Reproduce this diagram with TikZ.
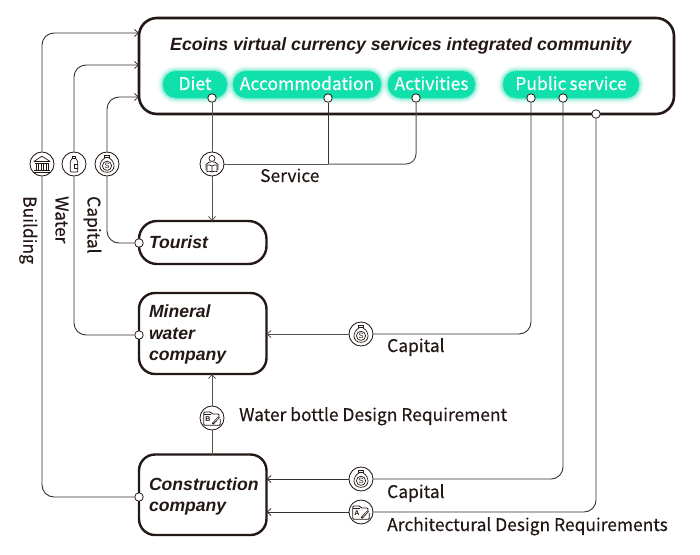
\documentclass[tikz,border=0pt]{standalone}
\usepackage{fontspec}
\usetikzlibrary{arrows.meta}
\setmainfont{Liberation Sans}
\newfontfamily\labfont[FakeBold=0.35]{Noto Sans CJK SC}
\definecolor{ink}{HTML}{231815}
\definecolor{pillc}{HTML}{0FE0AC}
\tikzset{
  mainbox/.style={draw=ink,line width=2.6pt,rounded corners=18pt,fill=white,outer sep=0pt},
  actor/.style={draw=ink,line width=2.4pt,rounded corners=16pt,fill=white,minimum width=127.5pt,outer sep=0pt,
     align=left,text width=107.5pt,inner xsep=10pt,inner ysep=0pt,font=\fontsize{17.6}{21.5}\selectfont\bfseries\itshape,text=ink,anchor=north west},
  pill/.style={rounded corners=13pt,fill=pillc,text=white,minimum height=27pt,inner sep=0pt,anchor=north west,outer sep=0pt,
     text height=15pt,text depth=4pt,
     font=\labfont\fontsize{17.5}{20}\selectfont,
     preaction={draw=pillc,line width=11pt,opacity=.04},
     preaction={draw=pillc,line width=9pt,opacity=.06},
     preaction={draw=pillc,line width=7pt,opacity=.09},
     preaction={draw=pillc,line width=5pt,opacity=.13},
     preaction={draw=pillc,line width=3pt,opacity=.18},
     preaction={draw=pillc,line width=1.5pt,opacity=.25}},
  port/.style={circle,draw=ink,fill=white,line width=.8pt,minimum size=8.5pt,inner sep=0pt},
  icon/.style={circle,draw=ink,fill=white,line width=.85pt,minimum size=24pt,inner sep=0pt},
  wire/.style={draw=ink!90,line width=.9pt,rounded corners=12pt},
  greywire/.style={draw=ink!75,line width=1pt,rounded corners=10pt},
  tip/.style={-{Straight Barb[length=4pt,width=7pt,line width=.8pt]}},
  lab/.style={font=\labfont\fontsize{17.4}{20}\selectfont,text=ink,inner sep=0pt},
  gl/.style={draw=ink,line width=.7pt,line join=round},
  icoBag/.pic={
    \draw[gl] (-2.6,-8.2) rectangle (2.6,-6.2);
    \draw[gl] (-1.8,-6.2) .. controls (-9,-2.5) and (-9,8.3) .. (0,8.3) .. controls (9,8.3) and (9,-2.5) .. (1.8,-6.2);
    \draw[gl] (0,1.8) circle (4.6pt);
    \node[inner sep=0pt,text=ink,font=\fontsize{7.5}{7}\selectfont] at (0,1.8) {S};},
  icoBank/.pic={
    \draw[gl] (-8,-2.6) -- (0,-7.8) -- (8,-2.6) -- cycle;
    \draw[gl] (-7,-.8) -- (7,-.8) (-8,6.5) -- (8,6.5) (-9,8) -- (9,8);
    \foreach \u in {-6,-3.2,-.6,1.8,4.2,6.4} {\draw[gl] (\u,-.8) -- (\u,6.5);}},
  icoBottle/.pic={
    \draw[gl] (-1.8,-8) rectangle (1.8,-5.8);
    \draw[gl,rounded corners=1pt] (-1.6,-5.8) -- (-3.8,-2.5) -- (-3.8,8) -- (3.8,8) -- (3.8,-2.5) -- (1.6,-5.8);
    \draw[gl] (3.8,0) -- (.2,0) -- (.2,4) -- (3.8,4);},
  icoPerson/.pic={
    \draw[gl] (0,-5.5) circle (3pt);
    \draw[gl] (-6,6) -- (-6,.5) .. controls (-5,-1.5) and (-2,-2) .. (-1.2,-2) (6,6) -- (6,.5) .. controls (5,-1.5) and (2,-2) .. (1.2,-2);
    \draw[gl] (0,2) .. controls (-2,.6) and (-4,.6) .. (-5,1.2) -- (-5,7.5) .. controls (-3,7) and (-1.5,7) .. (0,8) .. controls (1.5,7) and (3,7) .. (5,7.5) -- (5,1.2) .. controls (4,.6) and (2,.6) .. (0,2) -- (0,8);},
  pics/icoDoc/.style={code={
    \draw[gl,line width=.85pt,rounded corners=1pt] (8.2,1) -- (8.2,7.2) -- (-8.2,7.2) -- (-8.2,-6) -- (-1,-6) -- (0,-4) -- (7,-4) -- (7,-1.5);
    \draw[gl] (-8.2,-4) -- (-1,-4);
    \node[inner sep=0pt,text=ink,font=\bfseries\fontsize{7}{6}\selectfont] at (-4.2,0.8) {#1};
    \draw[draw=ink,line width=2pt] (.5,6) -- (7.2,-1);
    \draw[draw=white,line width=.5pt] (1.6,4.8) -- (6.6,-.4);}},
}
\begin{document}
\begin{tikzpicture}[x=1pt,y=-1pt]
\useasboundingbox (0,0) rectangle (700,554);
\fill[white] (0,0) rectangle (700,554);
% boxes
\node[mainbox,minimum width=535pt,minimum height=96pt,inner sep=0pt,anchor=north west] (main) at (139,18) {};
\node[inner sep=0pt,font=\fontsize{17.7}{20}\selectfont\bfseries\itshape,text=ink,anchor=base west] (title) at (170,50) {Ecoins virtual currency services integrated community};
\node[pill,minimum width=64pt] (diet) at (163,71) {Diet};
\node[pill,minimum width=148pt] (accom) at (233,71) {Accommodation};
\node[pill,minimum width=87pt] (activ) at (388,71) {Activities};
\node[pill,minimum width=136pt] (pub) at (503,71) {Public\hspace{-1pt} service};
\node[actor,minimum height=43pt,rounded corners=18pt] (tourist) at (139,221) {Tourist};
\node[actor,minimum height=81pt] (mineral) at (139,293) {\rule{0pt}{15.5pt}Mineral\\water\\company};
\node[actor,minimum height=80.5pt] (constr) at (139,454.5) {\rule{0pt}{16.5pt}Construction\\company};
% ports
\node[port] (pdiet) at (212,98) {};
\node[port] (paccom) at (328,98) {};
\node[port] (pactiv) at (416,98) {};
\node[port] (ppub) at (531,98) {};
\node[port] (pcap) at (563,98) {};
\node[port] (parch) at (596,114) {};
\node[port] (ptour) at (139,243) {};
\node[port] (pmin) at (139,335) {};
\node[port] (pcon) at (139,497) {};
% icons
\node[icon] (ibuild) at (42,164) {};
\node[icon] (iwater) at (74,164) {};
\node[icon] (icap) at (107,164) {};
\node[icon] (iserv) at (212,164) {};
\node[icon] (icapm) at (361,334) {};
\node[icon] (ibott) at (212,418) {};
\node[icon] (icapc) at (361,479) {};
\node[icon] (iarch) at (361,512) {};
\pic at (ibuild) {icoBank};
\pic at (iwater) {icoBottle};
\pic at (icap) {icoBag};
\pic at (iserv) {icoPerson};
\pic at (icapm) {icoBag};
\pic at (ibott) {icoDoc={B}};
\pic at (icapc) {icoBag};
\pic at (iarch) {icoDoc={A}};
% free ends on the main box
\coordinate (inB) at (139,33);
\coordinate (inW) at (139,65);
\coordinate (inC) at (139,97);
\coordinate (jn) at (328,164);
% connectors
\draw[wire] (pcon) -| (ibuild);
\draw[wire,tip] (ibuild) |- (inB);
\draw[wire] (pmin) -| (iwater);
\draw[wire,tip] (iwater) |- (inW);
\draw[wire] (ptour) -| (icap);
\draw[wire,tip] (icap) |- (inC);
\draw[greywire] (pdiet) -- (iserv);
\draw[greywire,tip] (iserv) -- (tourist.north -| iserv);
\draw[greywire] (iserv) -- (jn);
\draw[wire] (paccom) -- (jn);
\draw[greywire] (pactiv) |- (jn);
\draw[wire] (ppub) |- (icapm);
\draw[greywire,tip] (icapm) -- (mineral.east |- icapm);
\draw[greywire] (constr.north -| ibott) -- (ibott);
\draw[greywire,tip] (ibott) -- (mineral.south -| ibott);
\draw[wire] (pcap) |- (icapc);
\draw[wire,tip] (icapc) -- (constr.east |- icapc);
\draw[wire] (parch) |- (iarch);
\draw[wire,tip] (iarch) -- (constr.east |- iarch);
% labels
\node[lab,anchor=base west] (lserv) at (260,182) {Service};
\node[lab,anchor=base west] (lcapm) at (387,352) {Capital};
\node[lab,anchor=base west] (lbott) at (239,421) {Water bottle Design Requirement};
\node[lab,anchor=base west] (lcapc) at (387,498) {Capital};
\node[lab,anchor=base west] (larch) at (387,531) {Architectural Design Requirements};
\node[lab,rotate=-90,anchor=base west] (lb) at (23.5,196) {Building};
\node[lab,rotate=-90,anchor=base west] (lw) at (55.5,196) {Water};
\node[lab,rotate=-90,anchor=base west] (lc) at (87.5,196) {Capital};
\end{tikzpicture}
\end{document}
